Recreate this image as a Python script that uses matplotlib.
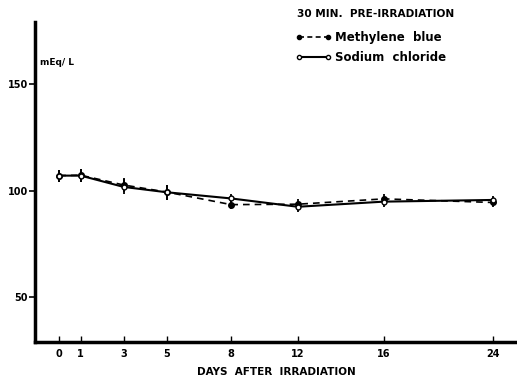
import matplotlib
matplotlib.use("Agg")
import matplotlib.pyplot as plt
from matplotlib.lines import Line2D

days = ["0", "1", "3", "5", "8", "12", "16", "24"]
day_pos = [0, 1, 3, 5, 8, 11.1, 15.1, 20.2]  # axis positions as drawn (compressed after day 8)
methylene = [107.0, 107.2, 102.6, 99.3, 93.4, 93.6, 96.1, 94.4]
methylene_err = [2.8, 3.0, 3.5, 3.5, 2.0, 2.5, 2.5, 2.0]
sodium = [107.0, 107.0, 101.7, 99.2, 96.3, 92.4, 94.8, 95.6]
sodium_err = [2.8, 3.0, 3.5, 3.5, 2.0, 2.5, 2.5, 2.0]
yticks = [50, 100, 150]

fig = plt.figure(figsize=(5.17, 3.80), dpi=100)
ax = fig.add_axes([0.068, 0.10, 0.932, 0.842])

ax.errorbar(day_pos, methylene, yerr=methylene_err, color="black", ls=(0, (4, 3)),
            lw=1.2, marker="o", ms=4, mfc="black", elinewidth=1.3, capsize=0)
ax.errorbar(day_pos, sodium, yerr=sodium_err, color="black", ls="-",
            lw=1.5, marker="o", ms=3.5, mfc="white", elinewidth=1.3, capsize=0)

ax.set_xlim(-1.12, 21.3)
ax.set_ylim(29, 179)
ax.set_xticks(day_pos)
ax.set_xticklabels(days, fontsize=7, fontweight="bold")
ax.set_yticks(yticks)
ax.set_yticklabels([str(v) for v in yticks], fontsize=7, fontweight="bold")
ax.tick_params(axis="x", direction="in", length=4, width=1, pad=5)
ax.tick_params(axis="y", direction="out", length=4, width=1.2, pad=1)

for s in ["top", "right"]:
    ax.spines[s].set_visible(False)
for s in ["left", "bottom"]:
    ax.spines[s].set_linewidth(2.5)

ax.set_xlabel("DAYS  AFTER  IRRADIATION", fontsize=7.5, fontweight="bold", labelpad=6)
ax.text(0.01, 0.872, "mEq/ L", transform=ax.transAxes, fontsize=6.5, fontweight="bold",
        ha="left", va="center")

fig.text(0.574, 0.963, "30 MIN.  PRE-IRRADIATION", fontsize=7.6, fontweight="bold",
         ha="left", va="center")
handles = [
    Line2D([], [], color="black", ls=(0, (3, 2)), lw=1.2, marker="o", ms=3, mfc="black"),
    Line2D([], [], color="black", ls="-", lw=1.5, marker="o", ms=3, mfc="white"),
]
ax.legend(handles, ["Methylene  blue", "Sodium  chloride"], loc="upper left",
          bbox_to_anchor=(0.572, 0.918), bbox_transform=fig.transFigure, frameon=False,
          handlelength=3.0, handletextpad=0.3, numpoints=2, labelspacing=0.6,
          borderaxespad=0, borderpad=0, prop={"size": 8.5, "weight": "bold"})

fig.savefig("out.png", dpi=100)
